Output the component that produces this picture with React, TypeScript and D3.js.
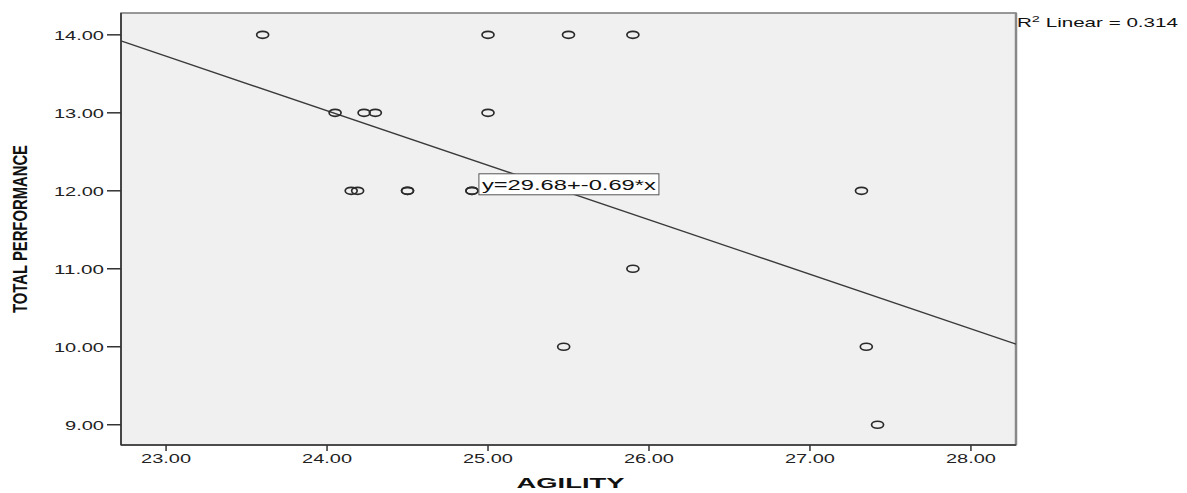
import React from "react";
import * as d3 from "d3";

// agility (x) vs total performance (y)
const agility = [
  23.6, 24.05, 24.23, 24.3, 25.0, 25.0, 25.5, 25.9, 24.15, 24.19, 24.5, 24.5,
  24.9, 24.9, 27.32, 25.9, 25.47, 27.35, 27.42,
];
const performance = [
  14, 13, 13, 13, 13, 14, 14, 14, 12, 12, 12, 12, 12, 12, 12, 11, 10, 10, 9,
];
const xTicks = [23, 24, 25, 26, 27, 28];
const yTicks = [9, 10, 11, 12, 13, 14];
const rSquaredLabel = "0.314";
const equationLabel = "y=29.68+-0.69*x";

const W = 1187;
const H = 493;
const margin = { left: 121, top: 13, right: 1016, bottom: 445 };
const font = "Arial, 'Liberation Sans', sans-serif";

export default function App() {
  const x = d3
    .scaleLinear()
    .domain([22.72, 28.28])
    .range([margin.left, margin.right]);
  const y = d3
    .scaleLinear()
    .domain([8.74, 14.28])
    .range([margin.bottom, margin.top]);

  // least squares fit
  const mx = d3.mean(agility) as number;
  const my = d3.mean(performance) as number;
  let sxy = 0;
  let sxx = 0;
  agility.forEach((a, i) => {
    sxy += (a - mx) * (performance[i] - my);
    sxx += (a - mx) * (a - mx);
  });
  const slope = sxy / sxx;
  const intercept = my - slope * mx;
  const [x0, x1] = x.domain();
  const line = d3
    .line<number>()
    .x((d) => x(d))
    .y((d) => y(intercept + slope * d));

  const plotW = margin.right - margin.left;
  const plotH = margin.bottom - margin.top;

  const boxX = x(24.9) + 7;
  const boxY = y(12) - 17;

  return (
    <svg
      width={W}
      height={H}
      style={{ position: "absolute", left: 0, top: 0, background: "#fff" }}
    >
      <rect
        x={margin.left}
        y={margin.top}
        width={plotW}
        height={plotH}
        fill="#f0f0f0"
        stroke="#777"
        strokeWidth={1.5}
      />
      {/* right edge is drawn a little heavier */}
      <line
        x1={margin.right}
        x2={margin.right}
        y1={margin.top}
        y2={margin.bottom}
        stroke="#888"
        strokeWidth={2.5}
      />
      {/* axes */}
      <line
        x1={margin.left}
        x2={margin.left}
        y1={margin.top}
        y2={margin.bottom}
        stroke="#333"
        strokeWidth={1.6}
      />
      <line
        x1={margin.left}
        x2={margin.right}
        y1={margin.bottom}
        y2={margin.bottom}
        stroke="#333"
        strokeWidth={1.6}
      />

      {yTicks.map((t) => (
        <g key={"y" + t}>
          <line
            x1={margin.left - 14}
            x2={margin.left}
            y1={y(t)}
            y2={y(t)}
            stroke="#333"
            strokeWidth={1.5}
          />
          <text
            x={margin.left - 17}
            y={y(t) + 5}
            textAnchor="end"
            fontFamily={font}
            fontSize={13.5}
            fill="#222"
            textLength={t >= 10 ? 50 : 39}
            lengthAdjust="spacingAndGlyphs"
          >
            {t.toFixed(2)}
          </text>
        </g>
      ))}

      {xTicks.map((t) => (
        <g key={"x" + t}>
          <line
            x1={x(t)}
            x2={x(t)}
            y1={margin.bottom}
            y2={margin.bottom + 6}
            stroke="#333"
            strokeWidth={1.5}
          />
          <text
            x={x(t)}
            y={margin.bottom + 18}
            textAnchor="middle"
            fontFamily={font}
            fontSize={13.5}
            fill="#222"
            textLength={50}
            lengthAdjust="spacingAndGlyphs"
          >
            {t.toFixed(2)}
          </text>
        </g>
      ))}

      <path
        d={line([x0, x1]) ?? ""}
        fill="none"
        stroke="#3a3a3a"
        strokeWidth={1.3}
      />

      {agility.map((a, i) => (
        <ellipse
          key={i}
          cx={x(a)}
          cy={y(performance[i])}
          rx={6}
          ry={3.5}
          fill="none"
          stroke="#2a2a2a"
          strokeWidth={1.7}
        />
      ))}

      <rect
        x={boxX}
        y={boxY}
        width={180}
        height={21}
        fill="#fff"
        stroke="#555"
        strokeWidth={1}
      />
      <text
        x={boxX + 3}
        y={boxY + 16}
        fontFamily={font}
        fontSize={15.5}
        fill="#111"
        textLength={174}
        lengthAdjust="spacingAndGlyphs"
      >
        {equationLabel}
      </text>

      <text
        x={margin.right + 1}
        y={27}
        fontFamily={font}
        fontSize={13.5}
        fill="#111"
        textLength={161}
        lengthAdjust="spacingAndGlyphs"
      >
        R<tspan dy={-5} fontSize={9.5}>2</tspan>
        <tspan dy={5}> Linear = {rSquaredLabel}</tspan>
      </text>

      <text
        x={(margin.left + margin.right) / 2 + 2}
        y={488}
        textAnchor="middle"
        fontFamily={font}
        fontSize={15.5}
        fontWeight="bold"
        fill="#111"
        textLength={108}
        lengthAdjust="spacingAndGlyphs"
      >
        AGILITY
      </text>

      <text
        transform={`translate(27,${(margin.top + margin.bottom) / 2}) rotate(-90)`}
        textAnchor="middle"
        fontFamily={font}
        fontSize={20}
        fontWeight="bold"
        fill="#111"
        textLength={168}
        lengthAdjust="spacingAndGlyphs"
      >
        TOTAL PERFORMANCE
      </text>
    </svg>
  );
}
